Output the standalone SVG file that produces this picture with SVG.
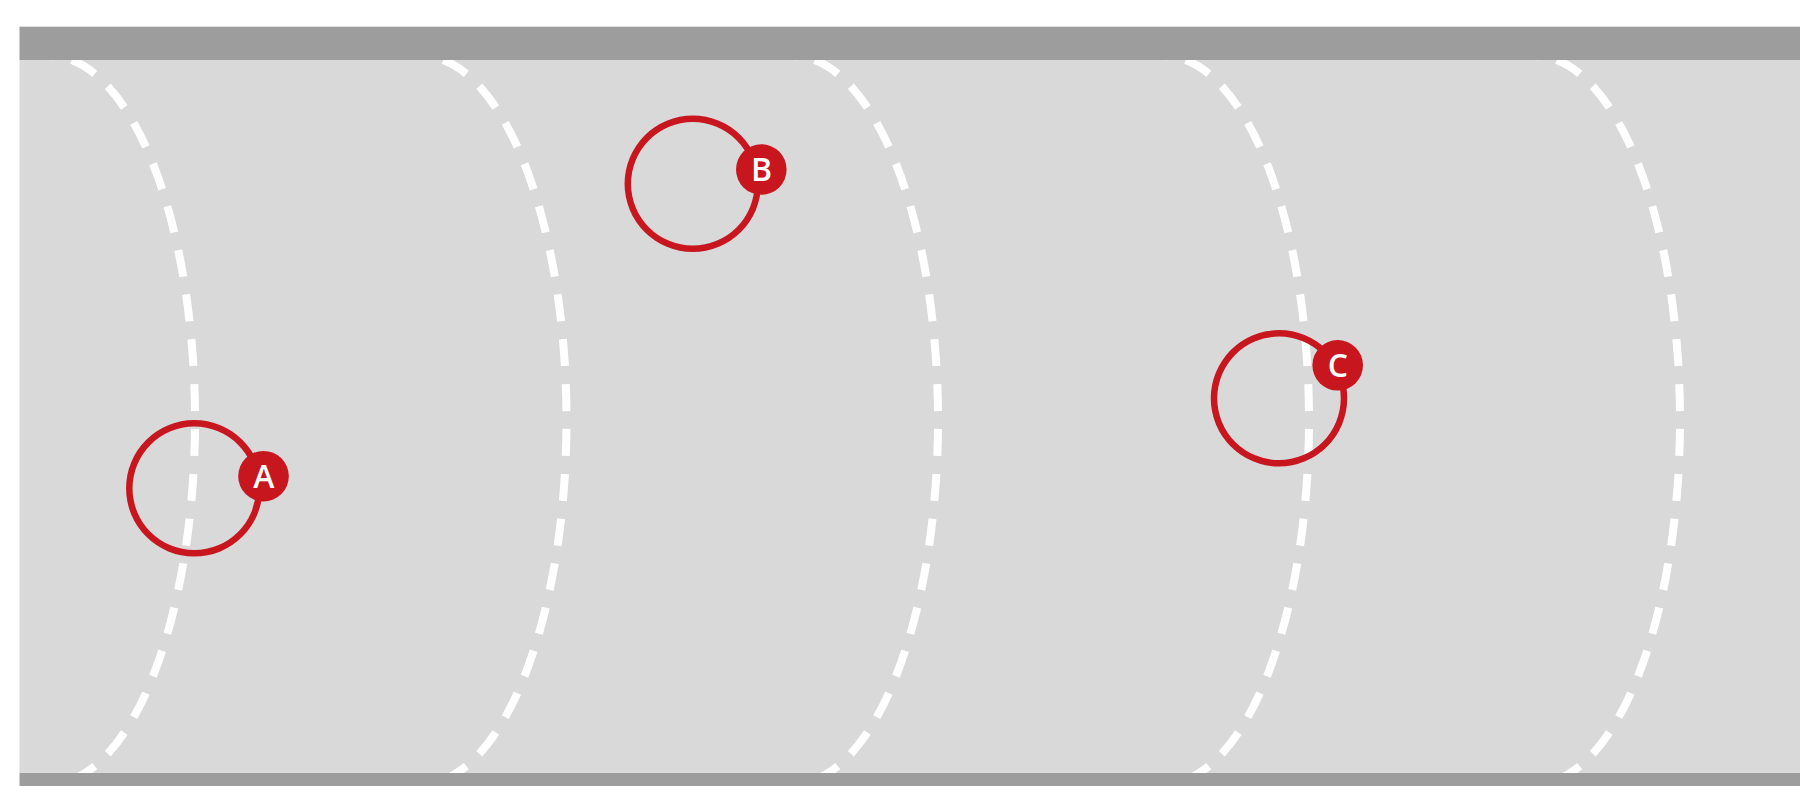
<svg xmlns="http://www.w3.org/2000/svg" width="1800" height="786" viewBox="0 0 1800 786">
<style>
.road{fill:#D9D9D9}
.bar{fill:#9D9D9D}
.lane{fill:none;stroke:#FFFFFF;stroke-width:8;stroke-dasharray:27 18;stroke-dashoffset:36}
.ring{fill:#C8161E;fill-rule:evenodd}
.badge{fill:#C8161E}
.lbl{fill:#FFFFFF;font-family:"Open Sans","Liberation Sans",sans-serif;font-size:32px;font-weight:600;text-anchor:middle}
</style>
<rect width="1800" height="786" fill="#FFFFFF"/>
<rect class="road" x="19.5" y="60" width="1780.5" height="713"/>
<g id="lanes">
<path class="lane" d="M195,420 A145 364 0 0 0 50,56"/>
<path class="lane" d="M195,420 A145 364 0 0 1 50,784"/>
<path class="lane" d="M566.5,420 A145 364 0 0 0 421.5,56"/>
<path class="lane" d="M566.5,420 A145 364 0 0 1 421.5,784"/>
<path class="lane" d="M938,420 A145 364 0 0 0 793,56"/>
<path class="lane" d="M938,420 A145 364 0 0 1 793,784"/>
<path class="lane" d="M1309,420 A145 364 0 0 0 1164,56"/>
<path class="lane" d="M1309,420 A145 364 0 0 1 1164,784"/>
<path class="lane" d="M1680,420 A145 364 0 0 0 1535,56"/>
<path class="lane" d="M1680,420 A145 364 0 0 1 1535,784"/>
</g>
<rect class="bar" x="19.5" y="26.7" width="1780.5" height="33.3"/>
<rect class="bar" x="19.5" y="773" width="1780.5" height="13"/>
<g id="nodeA">
<path class="ring" d="M126.05,488.3 A68.25 68.25 0 1 1 262.55,488.3 A68.25 68.25 0 1 1 126.05,488.3 Z M132.55,488.3 A61.75 61.75 0 1 0 256.05,488.3 A61.75 61.75 0 1 0 132.55,488.3 Z"/>
<circle class="badge" cx="263.5" cy="476.2" r="25.3"/>
<text class="lbl" x="263.8" y="488">A</text>
</g>
<g id="nodeB">
<path class="ring" d="M624.55,183.8 A68.25 68.25 0 1 1 761.05,183.8 A68.25 68.25 0 1 1 624.55,183.8 Z M631.05,183.8 A61.75 61.75 0 1 0 754.55,183.8 A61.75 61.75 0 1 0 631.05,183.8 Z"/>
<circle class="badge" cx="761.3" cy="169.5" r="25.3"/>
<text class="lbl" x="761.6" y="181.3">B</text>
</g>
<g id="nodeC">
<path class="ring" d="M1210.75,398.3 A68.25 68.25 0 1 1 1347.25,398.3 A68.25 68.25 0 1 1 1210.75,398.3 Z M1217.25,398.3 A61.75 61.75 0 1 0 1340.75,398.3 A61.75 61.75 0 1 0 1217.25,398.3 Z"/>
<circle class="badge" cx="1337.7" cy="365.3" r="25.3"/>
<text class="lbl" x="1338" y="377.1">C</text>
</g>
</svg>
